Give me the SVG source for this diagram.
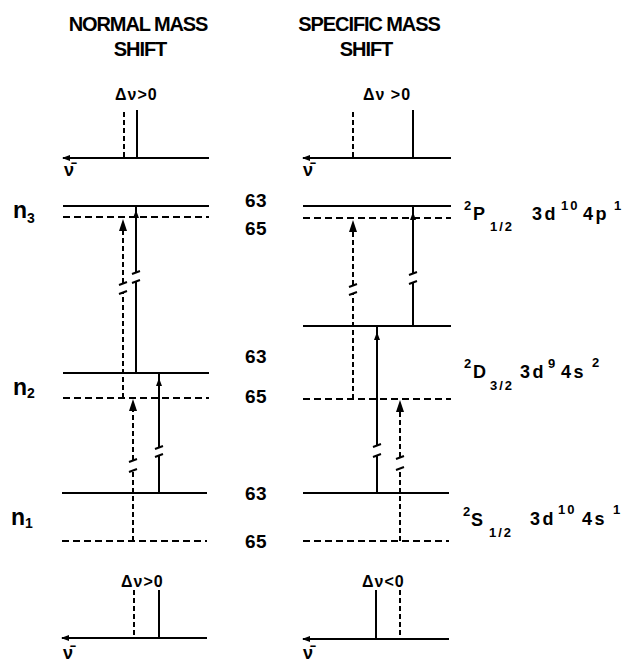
<svg xmlns="http://www.w3.org/2000/svg" width="626" height="666" viewBox="0 0 626 666">
<defs>
<style>
.bg{fill:#fff}
.lv{stroke:#000;stroke-width:2;fill:none}
.ld{stroke:#000;stroke-width:2;fill:none;stroke-dasharray:7 4}
.tv{stroke:#000;stroke-width:2;fill:none}
.td{stroke:#000;stroke-width:2;fill:none;stroke-dasharray:5 3}
.brk{stroke:#000;stroke-width:2;fill:none}
.ah{fill:#000}
text{font-family:"Liberation Sans",Arial,sans-serif;font-weight:bold;fill:#000}
.hd{font-size:20px;letter-spacing:-1.1px;text-anchor:middle}
.num{font-size:19px;letter-spacing:0.5px}
.dl{font-size:16px;letter-spacing:1px}
.nu{font-size:18px}
.nl{font-size:23px}
.nsub{font-size:14px}
.mn{font-size:18px;letter-spacing:2.5px}
.sp{font-size:13px;letter-spacing:2px}
</style>
<marker id="arrL" viewBox="0 0 8 8" refX="1" refY="4" markerWidth="8" markerHeight="8" markerUnits="userSpaceOnUse" orient="auto"><path d="M8,1 L0,4 L8,7 Z" fill="#000"/></marker>
</defs>
<rect class="bg" x="0" y="0" width="626" height="666"/>

<g id="headers">
<text class="hd" x="138" y="31">NORMAL MASS</text>
<text class="hd" x="140" y="56">SHIFT</text>
<text class="hd" x="369" y="31">SPECIFIC MASS</text>
<text class="hd" x="366" y="56">SHIFT</text>
</g>

<g id="spectrum-top-left">
<line class="lv" x1="63" y1="158" x2="209" y2="158" marker-start="url(#arrL)"/>
<line class="td" x1="124" y1="112" x2="124" y2="158"/>
<line class="tv" x1="137" y1="110" x2="137" y2="158"/>
<text class="dl" x="115" y="100">Δν&gt;0</text>
<text class="nu" x="64" y="176">ν̄</text>
</g>

<g id="spectrum-top-right">
<line class="lv" x1="303" y1="158" x2="451" y2="158" marker-start="url(#arrL)"/>
<line class="td" x1="353" y1="112" x2="353" y2="158"/>
<line class="tv" x1="413" y1="110" x2="413" y2="158"/>
<text class="dl" x="363" y="100">Δν &gt;0</text>
<text class="nu" x="303" y="176">ν̄</text>
</g>

<g id="spectrum-bottom-left">
<line class="lv" x1="62" y1="638" x2="207" y2="638" marker-start="url(#arrL)"/>
<line class="td" x1="134" y1="590" x2="134" y2="638"/>
<line class="tv" x1="159" y1="590" x2="159" y2="638"/>
<text class="dl" x="121" y="587">Δν&gt;0</text>
<text class="nu" x="63" y="659">ν̄</text>
</g>

<g id="spectrum-bottom-right">
<line class="lv" x1="303" y1="639" x2="449" y2="639" marker-start="url(#arrL)"/>
<line class="tv" x1="376" y1="590" x2="376" y2="639"/>
<line class="td" x1="400" y1="590" x2="400" y2="639"/>
<text class="dl" x="362" y="587">Δν&lt;0</text>
<text class="nu" x="303" y="659">ν̄</text>
</g>

<g id="levels-normal">
<line class="lv" x1="63" y1="206" x2="209" y2="206"/>
<line class="ld" x1="63" y1="217" x2="209" y2="217"/>
<line class="lv" x1="63" y1="373" x2="209" y2="373"/>
<line class="ld" x1="63" y1="398" x2="209" y2="398"/>
<line class="lv" x1="62" y1="493" x2="207" y2="493"/>
<line class="ld" x1="62" y1="541" x2="207" y2="541"/>
</g>

<g id="levels-specific">
<line class="lv" x1="303" y1="206" x2="451" y2="206"/>
<line class="ld" x1="303" y1="218" x2="451" y2="218"/>
<line class="lv" x1="303" y1="326" x2="451" y2="326"/>
<line class="ld" x1="303" y1="399" x2="451" y2="399"/>
<line class="lv" x1="303" y1="493" x2="449" y2="493"/>
<line class="ld" x1="303" y1="541" x2="449" y2="541"/>
</g>

<g id="n-labels">
<text class="nl" x="13" y="218">n<tspan class="nsub" dy="5">3</tspan></text>
<text class="nl" x="13" y="395">n<tspan class="nsub" dy="3">2</tspan></text>
<text class="nl" x="11" y="525">n<tspan class="nsub" dy="3">1</tspan></text>
</g>

<g id="isotope-labels">
<text class="num" x="245" y="207">63</text>
<text class="num" x="245" y="235">65</text>
<text class="num" x="245" y="363">63</text>
<text class="num" x="245" y="403">65</text>
<text class="num" x="245" y="500">63</text>
<text class="num" x="245" y="548">65</text>
</g>

<g id="term-P">
<text class="sp" x="464" y="210">2</text>
<text class="mn" x="473" y="220">P</text>
<text class="sp" x="490" y="231">1/2</text>
<text class="mn" x="532" y="220">3d</text>
<text class="sp" x="561" y="210">10</text>
<text class="mn" x="583" y="220">4p</text>
<text class="sp" x="614" y="210">1</text>
</g>

<g id="term-D">
<text class="sp" x="464" y="368">2</text>
<text class="mn" x="473" y="378">D</text>
<text class="sp" x="490" y="390">3/2</text>
<text class="mn" x="520" y="378">3d</text>
<text class="sp" x="548" y="368">9</text>
<text class="mn" x="561" y="378">4s</text>
<text class="sp" x="592" y="367">2</text>
</g>

<g id="term-S">
<text class="sp" x="463" y="516">2</text>
<text class="mn" x="471" y="526">S</text>
<text class="sp" x="489" y="537">1/2</text>
<text class="mn" x="530" y="525">3d</text>
<text class="sp" x="558" y="514">10</text>
<text class="mn" x="582" y="525">4s</text>
<text class="sp" x="613" y="514">1</text>
</g>

<g id="connectors">
<line class="tv" x1="136" y1="373" x2="136" y2="282"/>
<line class="tv" x1="136" y1="272" x2="136" y2="206"/>
<path class="brk" d="M132,274 L140,271 M132,283 L140,280"/>
<polygon class="ah" points="136,210 133,218 139,218"/>
<line class="td" x1="123" y1="398" x2="123" y2="292"/>
<line class="td" x1="123" y1="283" x2="123" y2="229"/>
<path class="brk" d="M119,285 L127,282 M119,294 L127,291"/>
<polygon class="ah" points="123,219 119,231 127,231"/>
<line class="td" x1="133" y1="541" x2="133" y2="470"/>
<line class="td" x1="133" y1="460" x2="133" y2="410"/>
<path class="brk" d="M129,462 L137,459 M129,472 L137,469"/>
<polygon class="ah" points="133,399 129,411 137,411"/>
<line class="tv" x1="159" y1="493" x2="159" y2="455"/>
<line class="tv" x1="159" y1="447" x2="159" y2="373"/>
<path class="brk" d="M155,449 L163,446 M155,457 L163,454"/>
<polygon class="ah" points="159,378 156,386 162,386"/>
<line class="tv" x1="413" y1="326" x2="413" y2="282"/>
<line class="tv" x1="413" y1="273" x2="413" y2="206"/>
<path class="brk" d="M409,275 L417,272 M409,284 L417,281"/>
<polygon class="ah" points="413,212 410,220 416,220"/>
<line class="td" x1="353" y1="399" x2="353" y2="293"/>
<line class="td" x1="353" y1="285" x2="353" y2="230"/>
<path class="brk" d="M349,287 L357,284 M349,295 L357,292"/>
<polygon class="ah" points="353,220 349,232 357,232"/>
<line class="tv" x1="377" y1="493" x2="377" y2="455"/>
<line class="tv" x1="377" y1="445" x2="377" y2="326"/>
<path class="brk" d="M373,447 L381,444 M373,457 L381,454"/>
<polygon class="ah" points="377,332 374,340 380,340"/>
<line class="td" x1="400" y1="541" x2="400" y2="468"/>
<line class="td" x1="400" y1="457" x2="400" y2="412"/>
<path class="brk" d="M396,459 L404,456 M396,470 L404,467"/>
<polygon class="ah" points="400,400 396,412 404,412"/>
</g>
</svg>
